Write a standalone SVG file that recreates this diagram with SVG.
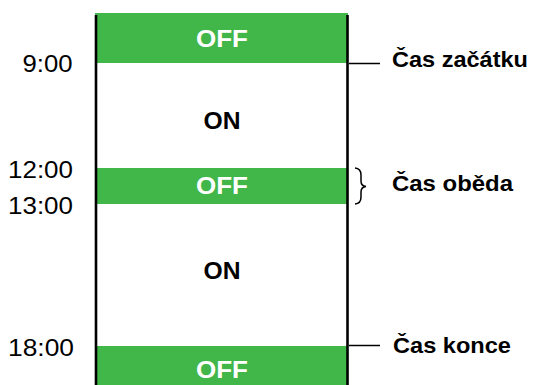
<svg xmlns="http://www.w3.org/2000/svg" width="533" height="385" viewBox="0 0 533 385">
<style>
.bar{fill:#41b649}
.rail{stroke:#000;stroke-width:2.6;fill:none}
.tick{stroke:#000;stroke-width:1.5;fill:none}
.st{font-family:"Liberation Sans",Arial,sans-serif;font-weight:bold;font-size:23px;text-anchor:middle}
.off{fill:#fff}
.on{fill:#000}
.time{font-family:"Liberation Sans",Arial,sans-serif;font-size:23px;fill:#000}
.lbl{font-family:"Liberation Sans",Arial,sans-serif;font-weight:bold;font-size:21.5px;fill:#000}
</style>
<rect width="533" height="385" fill="#fff"/>
<g id="off1"><rect class="bar" x="95" y="13" width="253" height="50"/><text class="st off" x="222" y="47" textLength="52" lengthAdjust="spacingAndGlyphs">OFF</text></g>
<g id="on1"><text class="st on" x="222" y="129" textLength="37" lengthAdjust="spacingAndGlyphs">ON</text></g>
<g id="off2"><rect class="bar" x="95" y="168" width="253" height="36"/><text class="st off" x="222" y="194" textLength="52" lengthAdjust="spacingAndGlyphs">OFF</text></g>
<g id="on2"><text class="st on" x="222" y="279" textLength="37" lengthAdjust="spacingAndGlyphs">ON</text></g>
<g id="off3"><rect class="bar" x="95" y="346" width="253" height="39"/><text class="st off" x="222" y="378" textLength="52" lengthAdjust="spacingAndGlyphs">OFF</text></g>
<g id="rails"><line class="rail" x1="96" y1="15" x2="96" y2="385"/><line class="rail" x1="347.5" y1="15" x2="347.5" y2="385"/></g>
<g id="times">
<text class="time" x="22.5" y="72" textLength="50" lengthAdjust="spacingAndGlyphs">9:00</text>
<text class="time" x="8" y="178" textLength="65" lengthAdjust="spacingAndGlyphs">12:00</text>
<text class="time" x="8" y="214" textLength="65" lengthAdjust="spacingAndGlyphs">13:00</text>
<text class="time" x="8" y="356" textLength="66" lengthAdjust="spacingAndGlyphs">18:00</text>
</g>
<g id="connectors">
<line class="tick" x1="349" y1="63.5" x2="380" y2="63.5"/>
<path class="tick" d="M355,168 Q361,168.5 361,175 L361,181 Q361,186 366,186.5 Q361,187 361,192 L361,197 Q361,203.5 355,204"/>
<line class="tick" x1="349" y1="345.5" x2="380" y2="345.5"/>
</g>
<g id="labels">
<text class="lbl" x="392" y="67" textLength="136" lengthAdjust="spacingAndGlyphs">Čas začátku</text>
<text class="lbl" x="392" y="191" textLength="121" lengthAdjust="spacingAndGlyphs">Čas oběda</text>
<text class="lbl" x="393" y="353" textLength="118" lengthAdjust="spacingAndGlyphs">Čas konce</text>
</g>
</svg>
